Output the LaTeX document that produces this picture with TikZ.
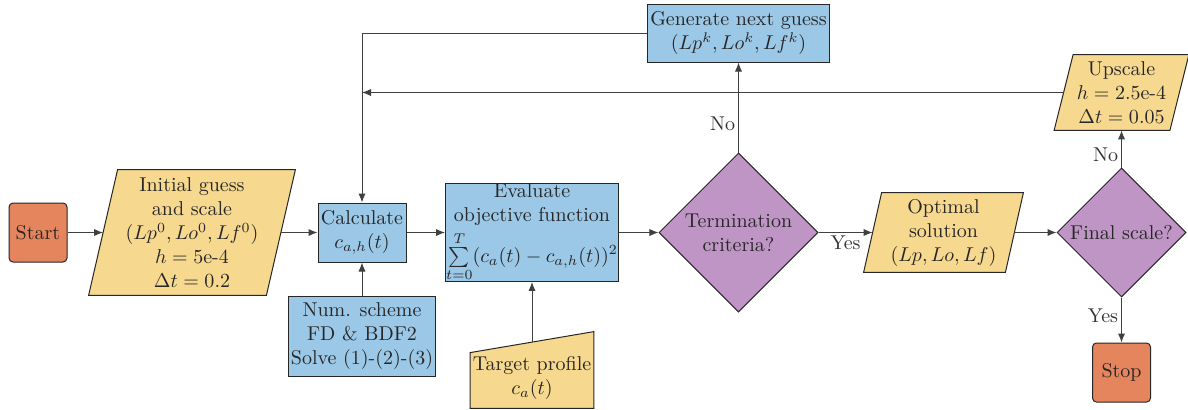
\documentclass[tikz,border=0pt]{standalone}
\usetikzlibrary{shapes.geometric,arrows.meta,backgrounds,calc}
\definecolor{cor}{RGB}{229,133,94}
\definecolor{cye}{RGB}{246,216,143}
\definecolor{cbl}{RGB}{156,200,231}
\definecolor{cpu}{RGB}{191,149,197}
\tikzset{
 base/.style={draw=black!85, line width=0.5pt, align=center, inner sep=1pt, text=black!85},
 termbox/.style={base, fill=cor, rounded corners=2pt, minimum width=29pt, minimum height=29.5pt},
 procbox/.style={base, fill=cbl},
 decbox/.style={base, fill=cpu, diamond, aspect=1, inner sep=0pt},
 iobox/.style={align=center, inner sep=0pt, text=black!85},
 conn/.style={draw=black!75, line width=0.5pt, -{Latex[length=4.5pt,width=3.6pt]}},
 lbl/.style={text=black!80, inner sep=1.5pt},
}
\newcommand{\paragon}[3]{%
 \begin{scope}[on background layer]
 \draw[draw=black!85, line width=0.5pt, fill=#2] ([xshift=#3]#1.north west) -- ([xshift=#3]#1.north east) -- ([xshift=-#3]#1.south east) -- ([xshift=-#3]#1.south west) -- cycle;
 \end{scope}}
\begin{document}
\begin{tikzpicture}[x=0.5pt, y=-0.5pt]
\useasboundingbox (0,0) rectangle (1188,409);
% nodes
\node[termbox] (start) at (38,232.5) {Start};
\node[iobox, minimum width=88.5pt, minimum height=62.5pt] (init) at (192,232.5) {Initial guess\\and scale\\$(Lp^0,Lo^0,Lf^0)$\\$h=5$e-4\\$\Delta t=0.2$};
\paragon{init}{cye}{7.25pt}
\node[procbox, minimum width=44pt, minimum height=29.5pt] (calc) at (362,232.5) {Calculate\\$c_{a,h}(t)$};
\node[procbox, minimum width=73.5pt, minimum height=40pt] (num) at (362,336) {Num. scheme\\FD \& BDF2\\Solve (1)-(2)-(3)};
\node[procbox, minimum width=86.5pt, minimum height=47.5pt, inner sep=0pt] (eval) at (532,232.5) {Evaluate\\objective function\\[2pt]$\sum\limits_{t=0}^{T}(c_a(t)-c_{a,h}(t))^2$};
\node[decbox, minimum width=79.5pt, minimum height=79.5pt] (term) at (738.5,232.5) {Termination\\criteria?};
\node[procbox, minimum width=91pt, minimum height=29pt] (gen) at (738.5,33) {Generate next guess\\$(Lp^k,Lo^k,Lf^k)$};
\node[iobox, minimum width=70.5pt, minimum height=39.5pt] (opt) at (943.5,232.5) {Optimal\\solution\\$(Lp,Lo,Lf)$};
\paragon{opt}{cye}{4.5pt}
\node[decbox, minimum width=64.5pt, minimum height=64.5pt] (fin) at (1121.5,232.5) {Final scale?};
\node[iobox, minimum width=57.5pt, minimum height=37.5pt] (up) at (1121.5,92.5) {Upscale\\$h=2.5$e-4\\$\Delta t=0.05$};
\paragon{up}{cye}{4.75pt}
\node[termbox] (stop) at (1121.5,372.5) {Stop};
\node[iobox, minimum width=61.5pt, minimum height=30pt] (tgt) at (532,378) {Target profile\\$c_a(t)$};
\begin{scope}[on background layer]
\draw[draw=black!85, line width=0.5pt, fill=cye] (tgt.south west) -- ([yshift=-2.5pt]tgt.north west) -- ([yshift=8pt]tgt.north east) -- (tgt.south east) -- cycle;
\end{scope}
\coordinate (tgttop) at ($([yshift=-2.5pt]tgt.north west)!0.5!([yshift=8pt]tgt.north east)$);
% connectors
\draw[conn] (start) -- (init);
\draw[conn] (init) -- (calc);
\draw[conn] (calc) -- (eval);
\draw[conn] (eval) -- (term);
\draw[conn] (term) -- node[lbl, below] {Yes} (opt);
\draw[conn] (term) -- node[lbl, left, pos=0.32] {No} (gen);
\draw[conn] (gen.west) -| (calc.north);
\draw[conn] (up.west) -- (up.west -| calc.north);
\draw[conn] (num) -- (calc);
\draw[conn] (tgttop) -- (tgttop |- eval.south);
\draw[conn] (opt) -- (fin);
\draw[conn] (fin) -- node[lbl, left, pos=0.35] {No} (up);
\draw[conn] (fin) -- node[lbl, left, pos=0.4] {Yes} (stop);
\end{tikzpicture}
\end{document}
